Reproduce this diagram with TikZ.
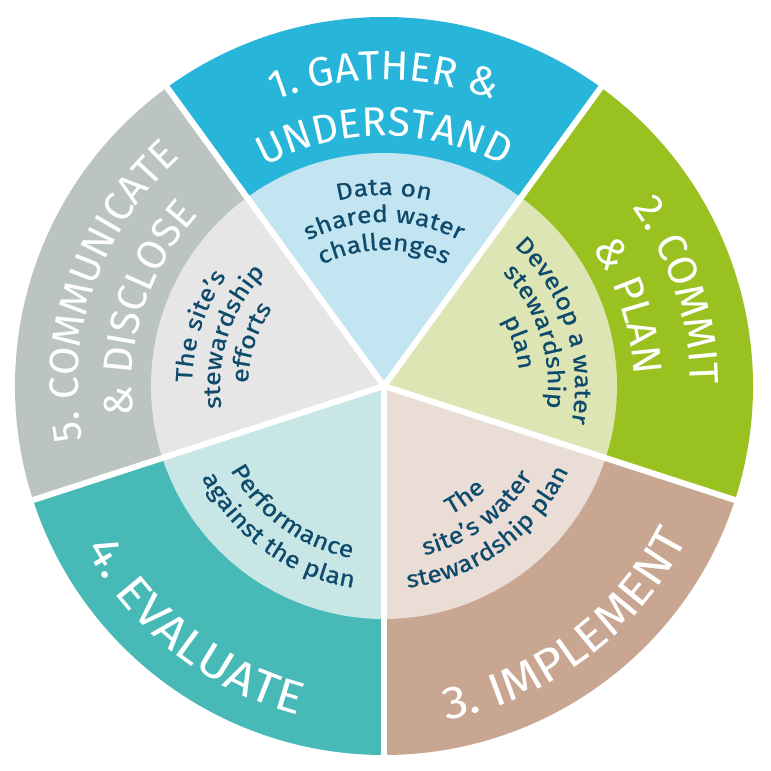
\documentclass[tikz,border=0pt]{standalone}
\usepackage{fontspec}
\setmainfont{Fira Sans}
\newfontfamily\outerfont{Fira Sans}
\newfontfamily\bigfont[FakeStretch=1.1]{Fira Sans}
\newfontfamily\innerfont[FakeStretch=1.13,FakeBold=0.6]{Fira Sans}
\usetikzlibrary{decorations.text}
\definecolor{oneout}{HTML}{27B5D9}
\definecolor{onein}{HTML}{C3E4F1}
\definecolor{twoout}{HTML}{99C221}
\definecolor{twoin}{HTML}{DDE5B4}
\definecolor{threeout}{HTML}{C9A692}
\definecolor{threein}{HTML}{E9DDD5}
\definecolor{fourout}{HTML}{47BAB8}
\definecolor{fourin}{HTML}{C9E6E6}
\definecolor{fiveout}{HTML}{BCC4C2}
\definecolor{fivein}{HTML}{E5E6E5}
\definecolor{navy}{HTML}{0E4A6C}
\newcommand\outerfs{\color{white}\outerfont\fontsize{41}{44}\selectfont}
\newcommand\bigfs{\color{white}\bigfont\fontsize{46}{50}\selectfont}
\newcommand\innerfs{\color{navy}\innerfont\fontsize{23.5}{26}\selectfont}
% clockwise arc text (tops outward), one arc piece of 88 degrees
\newcommand\cwtext[4]{\path[decorate,decoration={text along path,text align=center,text={|#3|#4}}] ({#1+44}:#2) arc[start angle={#1+44},end angle={#1-44},radius=#2];}
% counter-clockwise arc text (tops inward)
\newcommand\ccwtext[4]{\path[decorate,decoration={text along path,text align=center,text={|#3|#4}}] ({#1-44}:#2) arc[start angle={#1-44},end angle={#1+44},radius=#2];}
\tikzset{
  divider/.style={white,line width=6pt},
}
\begin{document}
\begin{tikzpicture}
\useasboundingbox[fill=white] (-384pt,-385pt) rectangle (387pt,386pt);
% outer wedges
\fill[oneout]   (0,0) -- (54:369pt)  arc[start angle=54,  end angle=126, radius=369pt] -- cycle;
\fill[twoout]   (0,0) -- (-18:369pt) arc[start angle=-18, end angle=54,  radius=369pt] -- cycle;
\fill[threeout] (0,0) -- (-90:369pt) arc[start angle=-90, end angle=-18, radius=369pt] -- cycle;
\fill[fourout]  (0,0) -- (198:369pt) arc[start angle=198, end angle=270, radius=369pt] -- cycle;
\fill[fiveout]  (0,0) -- (126:369pt) arc[start angle=126, end angle=198, radius=369pt] -- cycle;
% inner wedges
\fill[onein]   (0,0) -- (54:233pt)  arc[start angle=54,  end angle=126, radius=233pt] -- cycle;
\fill[twoin]   (0,0) -- (-18:233pt) arc[start angle=-18, end angle=54,  radius=233pt] -- cycle;
\fill[threein] (0,0) -- (-90:233pt) arc[start angle=-90, end angle=-18, radius=233pt] -- cycle;
\fill[fourin]  (0,0) -- (198:233pt) arc[start angle=198, end angle=270, radius=233pt] -- cycle;
\fill[fivein]  (0,0) -- (126:233pt) arc[start angle=126, end angle=198, radius=233pt] -- cycle;
% dividers
\coordinate (c) at (0,0);
\foreach \a in {-90,-18,54,126,198}{
  \coordinate (d\a) at (\a:372pt);
  \draw[divider] (c) -- (d\a);
}
% segment 1
\cwtext{90}{306pt}{\outerfs}{1. GATHER {\&}}
\cwtext{90}{250pt}{\outerfs}{UNDERSTAND}
\cwtext{90}{191pt}{\innerfs}{Data on}
\cwtext{90}{164pt}{\innerfs}{shared water}
\cwtext{90}{136pt}{\innerfs}{challenges}
% segment 2
\cwtext{18}{306pt}{\outerfs}{2. COMMIT}
\cwtext{18}{250pt}{\outerfs}{{\&} PLAN}
\cwtext{18}{191pt}{\innerfs}{Develop a water}
\cwtext{18}{164pt}{\innerfs}{stewardship}
\cwtext{18}{136pt}{\innerfs}{plan}
% segment 3
\ccwtext{-53}{340pt}{\bigfs}{3. IMPLEMENT}
\ccwtext{-54}{145pt}{\innerfs}{The}
\ccwtext{-54}{174pt}{\innerfs}{site’s water}
\ccwtext{-54}{203pt}{\innerfs}{stewardship plan}
% segment 4
\ccwtext{232}{340pt}{\bigfs}{4. EVALUATE}
\ccwtext{234}{175pt}{\innerfs}{Performance}
\ccwtext{234}{204pt}{\innerfs}{against the plan}
% segment 5
\cwtext{161}{306pt}{\outerfs}{5. COMMUNICATE}
\cwtext{162}{252pt}{\outerfs}{{\&} DISCLOSE}
\cwtext{162}{192pt}{\innerfs}{The site’s}
\cwtext{162}{164pt}{\innerfs}{stewardship}
\cwtext{162}{136pt}{\innerfs}{efforts}
\end{tikzpicture}
\end{document}
